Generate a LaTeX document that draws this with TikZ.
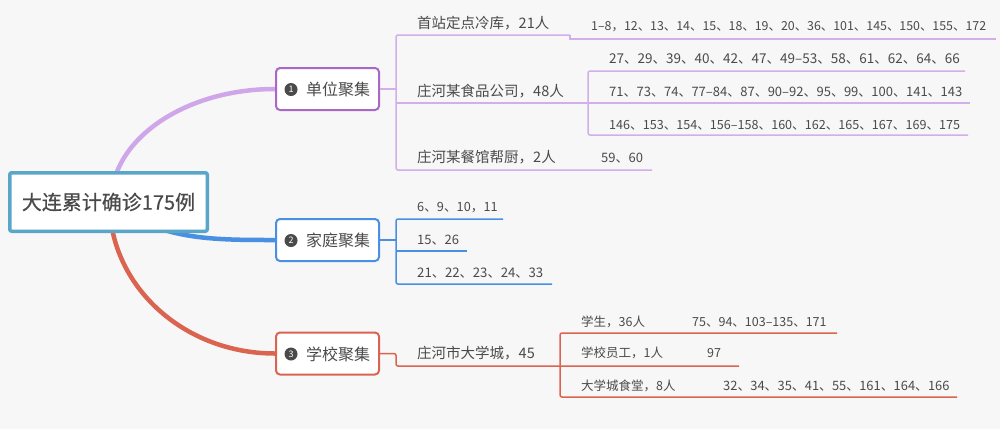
\documentclass[tikz,border=0pt]{standalone}
\usepackage{fontspec}
\setmainfont{Noto Sans CJK SC}
\usetikzlibrary{backgrounds}
\definecolor{bgc}{HTML}{F7F7F7}
\definecolor{txt}{HTML}{4A4A4A}
\definecolor{rootc}{HTML}{5AA6C9}
\definecolor{purpb}{HTML}{A967C6}
\definecolor{purpl}{HTML}{D2AEEA}
\definecolor{purpc}{HTML}{CFA6E9}
\definecolor{bluec}{HTML}{4A90E2}
\definecolor{redc}{HTML}{DA6450}
\newcommand{\fs}[1]{\fontsize{#1}{#1}\selectfont}
\tikzset{
  topic/.style={anchor=west, inner sep=0pt, text=txt, font=\fs{14.5}},
  leaf/.style={topic, font=\fs{#1}},
  leaf/.default=13,
  small/.style={topic, font=\fs{#1}},
  small/.default=12.5,
  bname/.style={topic, font=\fs{16}},
  branch/.style={draw=#1, line width=2pt, rounded corners=4pt, fill=white, minimum width=103pt, minimum height=42pt},
  numdot/.style={circle, fill=txt, text=white, inner sep=0pt, minimum size=13pt, font=\fs{9}},
  uline/.style={draw=#1, line width=1.5pt, rounded corners=2pt},
  curve/.style={draw=#1, line width=4.5pt},
}

\begin{document}
\begin{tikzpicture}[x=1pt, y=-1pt]
\useasboundingbox (0,0) rectangle (1000,429);
%
\node[draw=rootc, line width=3.5pt, fill=white, rounded corners=2pt, minimum width=197.5pt, minimum height=58.5pt, text=txt, font=\fs{20}\addfontfeature{FakeBold=0.6}] (root) at (108.5,202) {大连累计确诊175例};
%
\node[branch=purpb] (b1) at (327.5,89) {};
\node[numdot] (n1) at (291,89.5) {1};
\node[bname] (l1) at (306,89.5) {单位聚集};
\node[branch=bluec] (b2) at (327.5,240) {};
\node[numdot] (n2) at (291,240.5) {2};
\node[bname] (l2) at (306,240.5) {家庭聚集};
\node[branch=redc] (b3) at (327.5,353.5) {};
\node[numdot] (n3) at (291,354) {3};
\node[bname] (l3) at (306,354) {学校聚集};
%
\begin{scope}[on background layer]
\fill[bgc] (0,0) rectangle (1000,429);
\draw[curve=purpc] ([xshift=2.5pt]root.center) .. controls (111,139.6) and (184.4,89) .. (b1.west);
\draw[curve=bluec] (root.center) .. controls (160,240) and (210,240) .. (b2.west);
\draw[curve=redc] ([xshift=1pt]root.center) .. controls (109.5,285.4) and (183,353.5) .. (b3.west);
\end{scope}
%
\draw[uline=purpl] (b1.east) -- (396,89);
\draw[uline=purpl] (570,35) -| (396,170) -- (652,170);
\draw[uline=purpl, sharp corners] (570,35) -- (570,39) -- (996,39);
\draw[uline=purpl] (396,103) -- (970,103);
\draw[uline=purpl] (965,71) -| (588,135) -- (968,135);
%
\node[topic] (t11) at (417,23) {首站定点冷库，21人};
\node[leaf=12.4] (t111) at (591,27) {1–8，12、13、14、15、18、19、20、36、101、145、150、155、172};
\node[topic] (t12) at (417,91) {庄河某食品公司，48人};
\node[leaf=13.5] (t121) at (609,59) {27、29、39、40、42、47、49–53、58、61、62、64、66};
\node[leaf] (t122) at (609,92) {71、73、74、77–84、87、90–92、95、99、100、141、143};
\node[leaf=12.6] (t123) at (609,125) {146、153、154、156–158、160、162、165、167、169、175};
\node[topic] (t13) at (417,157) {庄河某餐馆帮厨，2人};
\node[leaf] (t131) at (601,158) {59、60};
%
\draw[uline=bluec] (b2.east) -- (396,240);
\draw[uline=bluec] (503,219) -| (396,284) -- (552,284);
\draw[uline=bluec] (396,251) -- (467,251);
%
\node[leaf=12.7] (t21) at (417,208) {6、9、10，11};
\node[leaf] (t22) at (417,240) {15、26};
\node[leaf=13.2] (t23) at (417,273) {21、22、23、24、33};
%
\draw[uline=redc] (b3.east) -| (396,366) -- (739,366);
\draw[uline=redc] (837,333) -| (560,397) -- (957,397);
%
\node[topic] (t31) at (417,353) {庄河市大学城，45};
\node[small] (t311) at (581,322) {学生，36人};
\node[small] (t3111) at (692,322) {75、94、103–135、171};
\node[small] (t312) at (581,353) {学校员工，1人};
\node[small] (t3121) at (707,353) {97};
\node[small] (t313) at (581,386) {大学城食堂，8人};
\node[small=12.9] (t3131) at (723,386) {32、34、35、41、55、161、164、166};

\end{tikzpicture}
\end{document}
